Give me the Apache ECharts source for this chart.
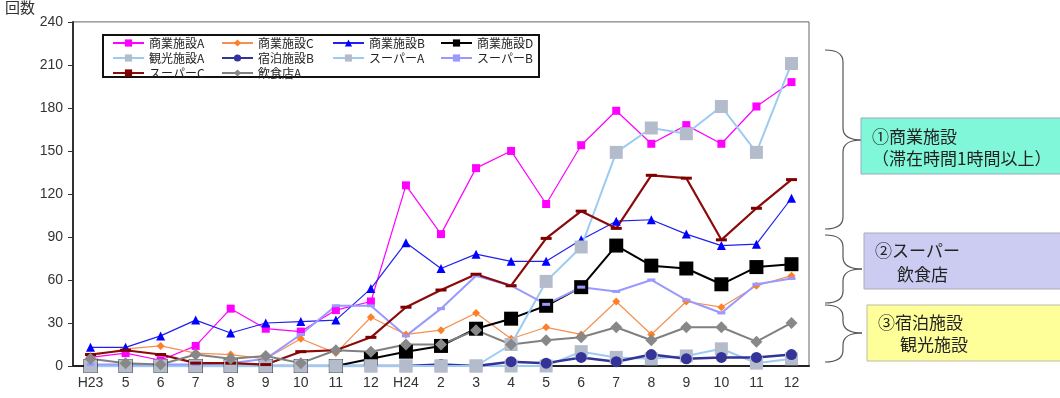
<!DOCTYPE html>
<html><head><meta charset="utf-8">
<script src="https://cdn.jsdelivr.net/npm/echarts@6/dist/echarts.min.js"></script>
<style>html,body{margin:0;padding:0;background:#fff}#c{width:1060px;height:398px}</style>
</head><body><div id="c"></div>
<script>
const categories = ['H23','5','6','7','8','9','10','11','12','H24','2','3','4','5','6','7','8','9','10','11','12'];
const yTicks = [0,30,60,90,120,150,180,210,240];
const shogyoA = [6,9,4,14,40,26,24,39,45,126,92,138,150,113,154,178,155,168,155,181,198];
const shogyoC = [7,12,14,9,8,5,19,9,34,22,25,37,19,27,22,45,22,45,41,56,63];
const shogyoB = [13,13,21,32,23,30,31,32,54,86,68,78,73,73,88,101,102,92,84,85,117];
const shogyoD = [0,0,0,0,0,0,0,0,5,10,14,26,33,42,55,84,70,68,57,69,71];
const kankoA = [0,0,0,0,0,0,0,0,0,0,0,0,0,0,10,6,5,7,12,2,5];
const shukuhakuB = [0,0,0,0,0,0,0,0,0,0,1,0,3,2,6,3,8,5,6,6,8];
const superA = [0,0,0,0,0,0,0,0,0,0,0,0,15,59,83,149,166,162,181,149,211];
const superB = [1,1,1,1,2,5,22,42,42,21,40,63,56,43,55,52,60,46,37,57,61];
const superC = [8,11,8,2,2,1,10,11,20,41,53,64,56,89,108,96,133,131,88,110,130];
const inshokuA = [5,2,1,8,5,7,2,11,10,15,15,25,15,18,20,27,18,27,27,17,30];

const FONT = '"Liberation Sans", "Noto Sans CJK JP", sans-serif';
const JP = '"Noto Sans CJK JP", sans-serif';

function s(name, data, o) {
  return Object.assign({ name, type: 'line', data, animation: false }, o);
}
const series = [
  s('商業施設A', shogyoA, { symbol:'rect', symbolSize:8, itemStyle:{color:'#FF00FF'}, lineStyle:{color:'#FF00FF', width:1.2} }),
  s('商業施設C', shogyoC, { symbol:'diamond', symbolSize:8, itemStyle:{color:'#FF7F27'}, lineStyle:{color:'#F59050', width:1.2} }),
  s('商業施設B', shogyoB, { symbol:'triangle', symbolSize:9, itemStyle:{color:'#0000FF'}, lineStyle:{color:'#2020F0', width:1.2} }),
  s('商業施設D', shogyoD, { symbol:'rect', symbolSize:14, itemStyle:{color:'#000000'}, lineStyle:{color:'#000000', width:2} }),
  s('観光施設A', kankoA, { symbol:'rect', symbolSize:13, itemStyle:{color:'#B4BCCB'}, lineStyle:{color:'#9CCBF2', width:2} }),
  s('宿泊施設B', shukuhakuB, { symbol:'circle', symbolSize:11, itemStyle:{color:'#33339A'}, lineStyle:{color:'#33339A', width:2.5} }),
  s('スーパーA', superA, { symbol:'rect', symbolSize:13, itemStyle:{color:'#B4BCCB'}, lineStyle:{color:'#9CCBF2', width:2} }),
  s('スーパーB', superB, { symbol:'rect', symbolSize:[8,3], itemStyle:{color:'#9999FF'}, lineStyle:{color:'#9999FF', width:2} }),
  s('スーパーC', superC, { symbol:'rect', symbolSize:[11,3], itemStyle:{color:'#800000'}, lineStyle:{color:'#8B0A0A', width:2.2} }),
  s('飲食店A', inshokuA, { symbol:'diamond', symbolSize:12, itemStyle:{color:'#888888'}, lineStyle:{color:'#808080', width:2} })
];

function leg(left, names) {
  return { orient:'vertical', left, top:37, data:names, itemWidth:31, itemHeight:9, itemGap:3,
    textStyle:{ fontFamily: JP, fontSize:12, lineHeight:11, color:'#222' }, padding:0 };
}

function brace(x0, xs, xt, y1, ym, y2) {
  const r = 12;
  const st = { fill:null, stroke:'#555', lineWidth:1.2 };
  return [
    { type:'bezierCurve', silent:true, shape:{ x1:x0, y1:y1, x2:xs, y2:y1+r, cpx1:xs, cpy1:y1 }, style:st },
    { type:'line', silent:true, shape:{ x1:xs, y1:y1+r, x2:xs, y2:ym-r }, style:st },
    { type:'bezierCurve', silent:true, shape:{ x1:xs, y1:ym-r, x2:xt, y2:ym, cpx1:xs, cpy1:ym }, style:st },
    { type:'bezierCurve', silent:true, shape:{ x1:xt, y1:ym, x2:xs, y2:ym+r, cpx1:xs, cpy1:ym }, style:st },
    { type:'line', silent:true, shape:{ x1:xs, y1:ym+r, x2:xs, y2:y2-r }, style:st },
    { type:'bezierCurve', silent:true, shape:{ x1:xs, y1:y2-r, x2:x0, y2:y2, cpx1:xs, cpy1:y2 }, style:st }
  ];
}
function label(x, y, text) {
  return { type:'text', x, y, style:{ text, font:'17px '+JP, fill:'#222', verticalAlign:'middle' } };
}

const chart = echarts.init(document.getElementById('c'), null, { renderer:'canvas' });
chart.setOption({
  backgroundColor:'#fff',
  animation:false,
  grid:{ left:73, right:251, top:16, bottom:32, show:true, borderColor:'#666', borderWidth:1 },
  xAxis:{ type:'category', data:categories, boundaryGap:true,
    axisLine:{ lineStyle:{ color:'#222', width:2 } },
    axisTick:{ inside:true, length:5, lineStyle:{ color:'#222' } },
    axisLabel:{ fontFamily:FONT, fontSize:14, color:'#333', margin:10, interval:0 } },
  yAxis:{ type:'value', min:yTicks[0], max:yTicks[yTicks.length-1], interval:30,
    name:'回数', nameLocation:'end', nameGap:0,
    nameTextStyle:{ fontFamily:JP, fontSize:15, color:'#333', align:'right', verticalAlign:'middle', padding:[8,38,0,0] },
    splitLine:{ show:false },
    axisLine:{ show:true, lineStyle:{ color:'#333', width:2 } },
    axisTick:{ show:true, length:5, lineStyle:{ color:'#333' } },
    axisLabel:{ fontFamily:FONT, fontSize:14, color:'#333', margin:10 } },
  legend:[
    leg(112, ['商業施設A','観光施設A','スーパーC']),
    leg(221, ['商業施設C','宿泊施設B','飲食店A']),
    leg(332, ['商業施設B','スーパーA']),
    leg(440, ['商業施設D','スーパーB'])
  ],
  graphic:[].concat(
    [{ type:'rect', z:-1, shape:{ x:103, y:35, width:436, height:42 }, style:{ fill:'#fff', stroke:'#111', lineWidth:2 } }],
    brace(825, 843, 862, 50, 140, 229),
    brace(825, 843, 862, 235, 269, 303),
    brace(825, 843, 862, 305, 333, 362),
    [
    { type:'rect', shape:{ x:861, y:118, width:210, height:56 }, style:{ fill:'#80F7D8', stroke:'#9ab', lineWidth:1 } },
    label(872, 137, '①商業施設'),
    label(872, 159, '（滞在時間1時間以上）'),
    { type:'rect', shape:{ x:864, y:233, width:210, height:56 }, style:{ fill:'#CCCCF2', stroke:'#aab', lineWidth:1 } },
    label(875, 251, '②スーパー'),
    label(897, 275, '飲食店'),
    { type:'rect', shape:{ x:867, y:305, width:210, height:56 }, style:{ fill:'#FFFF99', stroke:'#bba', lineWidth:1 } },
    label(878, 323, '③宿泊施設'),
    label(900, 345, '観光施設')
    ]
  ),
  series
});
</script></body></html>
